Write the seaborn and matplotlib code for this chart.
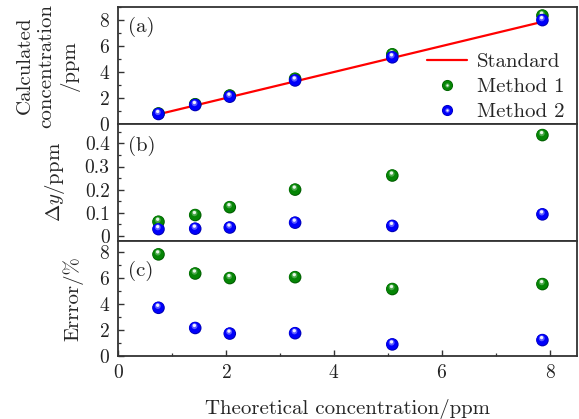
import matplotlib
matplotlib.use("Agg")
import matplotlib.pyplot as plt
import seaborn as sns
import pandas as pd
from matplotlib.lines import Line2D
from matplotlib.legend_handler import HandlerTuple
from matplotlib.ticker import MultipleLocator, FixedLocator, FixedFormatter
from matplotlib.transforms import ScaledTranslation

# Theoretical concentrations (ppm)
theoretical = [0.75, 1.43, 2.07, 3.28, 5.08, 7.86]
standard = [0.75, 1.43, 2.07, 3.28, 5.08, 7.86]

# Calculated concentrations (ppm)
calc_method1 = [0.81, 1.52, 2.19, 3.48, 5.36, 8.34]
calc_method2 = [0.77, 1.46, 2.10, 3.35, 5.13, 7.99]

# Absolute deviation (ppm)
dy_method1 = [0.061, 0.090, 0.124, 0.200, 0.261, 0.436]
dy_method2 = [0.029, 0.031, 0.036, 0.057, 0.043, 0.093]

# Relative error (%)
err_method1 = [7.80, 6.33, 5.98, 6.05, 5.14, 5.52]
err_method2 = [3.70, 2.15, 1.72, 1.75, 0.89, 1.22]

dy_ticks = [0, 0.1, 0.2, 0.3, 0.4]
dy_ticklabels = ["0", "0.1", "0.2", "0.3", "0.4"]

FS = 15
TFS = 14

sns.set_theme(style="ticks")
plt.rcParams.update({
    "font.family": ["cmr10", "DejaVu Serif"],
    "mathtext.fontset": "cm",
    "axes.formatter.use_mathtext": True,
    "axes.unicode_minus": False,
    "font.size": FS,
    "axes.edgecolor": "#333333",
    "axes.linewidth": 1.3,
    "xtick.color": "#333333",
    "ytick.color": "#333333",
    "xtick.labelcolor": "#222222",
    "ytick.labelcolor": "#222222",
    "xtick.direction": "in",
    "ytick.direction": "in",
})

fig = plt.figure(figsize=(5.79, 4.19), dpi=100)
L, R = 118 / 579, 577 / 579
def frac(py):
    return 1 - py / 419
ax_a = fig.add_axes([L, frac(124), R - L, frac(7) - frac(124)])
ax_b = fig.add_axes([L, frac(240.7), R - L, frac(124) - frac(240.7)])
ax_c = fig.add_axes([L, frac(356), R - L, frac(240.7) - frac(356)])

palettes = {
    "Method 1": ["#005c00", "#058505", "#4aa84a", "#e6f6e6"],
    "Method 2": ["#0000b4", "#0000fa", "#5a5aff", "#f0f0ff"],
}
BASE_S = 82


def spheres(ax, xs, ys, name, zorder=3):
    df = pd.DataFrame({"x": xs, "y": ys})
    cols = palettes[name]
    sns.scatterplot(data=df, x="x", y="y", ax=ax, s=BASE_S, color=cols[0],
                    edgecolor="none", linewidth=0, zorder=zorder, legend=False)
    layers = [(0.80, cols[1], -0.2, 0.25), (0.22, cols[2], -0.5, 1.3),
              (0.07, cols[3], -0.6, 1.8)]
    for k, (frac_s, c, dxp, dyp) in enumerate(layers):
        tr = ax.transData + ScaledTranslation(dxp / 72, dyp / 72, fig.dpi_scale_trans)
        ax.scatter(xs, ys, s=BASE_S * frac_s, color=c, edgecolor="none",
                   transform=tr, zorder=zorder + 0.1 * (k + 1))


# (a) calculated concentration
sns.lineplot(x=theoretical, y=standard, ax=ax_a, color="#ff0000", lw=1.6,
             zorder=2, legend=False)
spheres(ax_a, theoretical, calc_method1, "Method 1", zorder=3)
spheres(ax_a, theoretical, calc_method2, "Method 2", zorder=4)
ax_a.set_ylim(0, 9)
ax_a.yaxis.set_major_locator(MultipleLocator(2))
ax_a.yaxis.set_minor_locator(MultipleLocator(1))
ax_a.set_ylabel("Calculated\nconcentration\n/ppm", fontsize=FS, linespacing=1.28)
ax_a.yaxis.set_label_coords(-0.083, 0.5)

# (b) absolute deviation
spheres(ax_b, theoretical, dy_method1, "Method 1")
spheres(ax_b, theoretical, dy_method2, "Method 2")
ax_b.set_ylim(-0.021, 0.484)
ax_b.yaxis.set_major_locator(FixedLocator(dy_ticks))
ax_b.yaxis.set_major_formatter(FixedFormatter(dy_ticklabels))
ax_b.yaxis.set_minor_locator(MultipleLocator(0.05))
ax_b.set_ylabel(r"$\Delta y$/ppm", fontsize=FS)
ax_b.yaxis.set_label_coords(-0.111, 0.5)

# (c) relative error
spheres(ax_c, theoretical, err_method1, "Method 1")
spheres(ax_c, theoretical, err_method2, "Method 2")
ax_c.set_ylim(0, 8.85)
ax_c.yaxis.set_major_locator(MultipleLocator(2))
ax_c.yaxis.set_minor_locator(MultipleLocator(1))
ax_c.set_ylabel("Errror/%", fontsize=FS)
ax_c.yaxis.set_label_coords(-0.076, 0.5)
ax_c.set_xlabel("Theoretical concentration/ppm", fontsize=FS, labelpad=12)

for ax, tag, ty in [(ax_a, "(a)", 0.83), (ax_b, "(b)", 0.815), (ax_c, "(c)", 0.74)]:
    ax.set_xlim(0, 8.5)
    ax.xaxis.set_major_locator(MultipleLocator(2))
    ax.xaxis.set_minor_locator(MultipleLocator(1))
    ax.tick_params(which="major", length=4, width=1.0, labelsize=TFS, pad=6)
    ax.tick_params(which="minor", length=2.2, width=0.9)
    ax.tick_params(axis="both", which="both", right=False, top=False)
    ax.text(0.022, ty, tag, transform=ax.transAxes, fontsize=FS,
            va="center", ha="left", color="#222222")
    if ax is not ax_c:
        ax.set_xlabel("")
    for sp in ax.spines.values():
        sp.set_visible(True)

for ax in (ax_a, ax_b):
    ax.tick_params(axis="x", which="both", bottom=False, labelbottom=False)

# Legend with sphere-like markers
def sphere_handle(name, ms=8.0):
    cols = palettes[name]
    return (Line2D([], [], ls="none", marker="o", ms=ms, mfc=cols[0], mec="none"),
            Line2D([], [], ls="none", marker="o", ms=ms * 0.88, mfc=cols[1], mec="none"),
            Line2D([], [], ls="none", marker="o", ms=ms * 0.4, mfc=cols[2], mec="none"),
            Line2D([], [], ls="none", marker="o", ms=ms * 0.2, mfc=cols[3], mec="none"))

handles = [Line2D([], [], color="#ff0000", lw=1.6),
           sphere_handle("Method 1"), sphere_handle("Method 2")]
ax_a.legend(handles, ["Standard", "Method 1", "Method 2"],
            handler_map={tuple: HandlerTuple(ndivide=1)},
            loc="lower right", bbox_to_anchor=(1.0, -0.085), frameon=False,
            fontsize=FS, handlelength=1.9, handletextpad=0.5, labelspacing=0.32,
            borderaxespad=0.2)

fig.savefig("out.png", dpi=100)
